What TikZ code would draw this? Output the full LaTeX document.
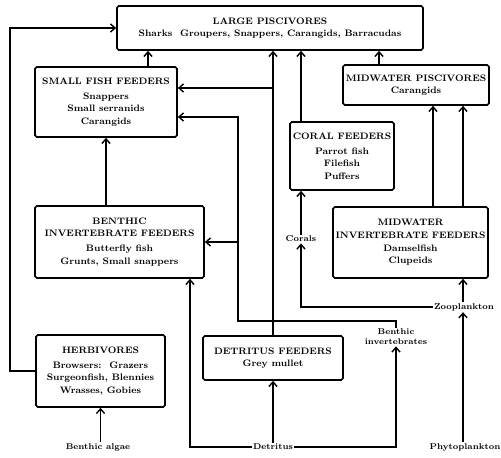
\documentclass[tikz,border=0pt]{standalone}
\usepackage{amsmath}
\usepackage{tikz}
\usetikzlibrary{arrows.meta}

\tikzset{
  box/.style={draw, line width=1.4pt, rounded corners=1.5pt, align=center,
    inner sep=2pt, font=\bfseries\fontsize{8}{10.8}\selectfont},
  lbl/.style={align=center, inner sep=1pt, font=\bfseries\fontsize{7.2}{8.5}\selectfont},
  arr/.style={line width=1.4pt, -{Straight Barb[length=4pt,width=7pt,line width=1.2pt]}},
}

\begin{document}
\begin{tikzpicture}[x=0.03cm, y=-0.03cm]
  \useasboundingbox (0,0) rectangle (501,458);

  % boxes
  \node[box, minimum width=9.18cm, minimum height=1.32cm] (large) at (270,28)
    {LARGE PISCIVORES\\Sharks\ \ Groupers, Snappers, Carangids, Barracudas};
  \node[box, minimum width=4.26cm, minimum height=2.1cm] (smallfish) at (106,102)
    {SMALL FISH FEEDERS\\[2pt]Snappers\\Small serranids\\Carangids};
  \node[box, minimum width=4.38cm, minimum height=1.2cm] (midpisc) at (416,85)
    {MIDWATER PISCIVORES\\Carangids};
  \node[box, minimum width=3.12cm, minimum height=2.04cm] (coral) at (342,156)
    {CORAL FEEDERS\\[2pt]Parrot fish\\Filefish\\Puffers};
  \node[box, minimum width=5.07cm, minimum height=2.16cm] (benthinv) at (119.5,242)
    {BENTHIC\\INVERTEBRATE FEEDERS\\[2pt]Butterfly fish\\Grunts, Small snappers};
  \node[box, minimum width=4.65cm, minimum height=2.13cm] (midinv) at (410.5,242.5)
    {MIDWATER\\INVERTEBRATE FEEDERS\\Damselfish\\Clupeids};
  \node[box, minimum width=3.87cm, minimum height=2.16cm] (herb) at (100.5,371)
    {HERBIVORES\\[2pt]Browsers:\ \ Grazers\\Surgeonfish, Blennies\\Wrasses, Gobies};
  \node[box, minimum width=4.2cm, minimum height=1.32cm] (detfeed) at (273,358)
    {DETRITUS FEEDERS\\Grey mullet};

  % food sources
  \node[lbl] (algae) at (98,447) {Benthic algae};
  \node[lbl] (detritus) at (273,447) {Detritus};
  \node[lbl] (phyto) at (465,447) {Phytoplankton};
  \node[lbl] (zoo) at (464,307) {Zooplankton};
  \node[lbl] (corals) at (301,239) {Corals};
  \node[lbl] (bentinv) at (396,337) {Benthic\\invertebrates};

  % bends
  \coordinate (jh) at (10,371);
  \coordinate (jd) at (190,447);
  \coordinate (jb2) at (238,321);
  \coordinate (jb3) at (238,117);
  \coordinate (jdet) at (273,88);
  \coordinate (jmp) at (379,0);
  \coordinate (c1) at (433,0);
  \coordinate (c2) at (463,0);

  % links
  \draw[arr] (herb.west) -- (jh) |- (large.west);
  \draw[arr] (smallfish.north) ++(42,0) coordinate (s1) -- (s1 |- large.south);
  \draw[arr] (smallfish.south |- benthinv.north) -- (smallfish.south);
  \draw[arr] (detfeed.north) -- (detfeed.north |- large.south);
  \draw[arr] (jdet) -- (jdet -| smallfish.east);
  \draw[arr] (bentinv.north) |- (jb2) -- (jb3) -- (jb3 -| smallfish.east);
  \draw[arr] (jb2 |- benthinv.east) -- (benthinv.east);
  \draw[arr] (corals |- coral.north) -- (corals |- large.south);
  \draw[arr] (jmp |- midpisc.north) -- (jmp |- large.south);
  \draw[arr] (c1 |- midinv.north) -- (c1 |- midpisc.south);
  \draw[arr] (c2 |- midinv.north) -- (c2 |- midpisc.south);
  \draw[arr] (corals.north) -- (corals |- coral.south);
  \draw[arr] (zoo.west) -| (corals.south);
  \draw[arr] (c2 |- zoo.north) -- (c2 |- midinv.south);
  \draw[arr] (c2 |- phyto.north) -- (c2 |- zoo.south);
  \draw[arr] (herb.south |- algae.north) -- (herb.south);
  \draw[arr] (detfeed.south |- detritus.north) -- (detfeed.south);
  \draw[arr] (detritus.west) -- (jd) -- (jd |- benthinv.south);
  \draw[arr] (detritus.east) -| (bentinv.south);

\end{tikzpicture}
\end{document}
